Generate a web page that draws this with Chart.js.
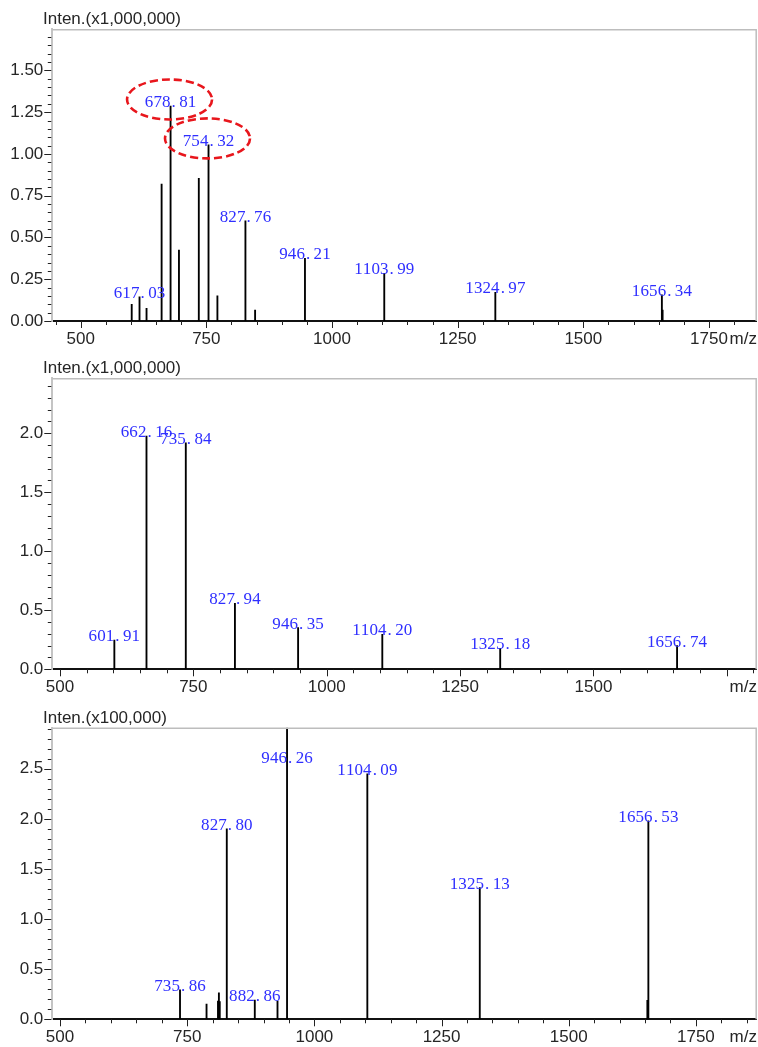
<!DOCTYPE html>
<html><head><meta charset="utf-8">
<script src="https://cdn.jsdelivr.net/npm/chart.js@4/dist/chart.umd.min.js"></script>
<style>
html,body{margin:0;padding:0;background:#fff;width:758px;height:1047px;overflow:hidden}
canvas{position:absolute;left:0}
</style></head><body>
<canvas id="c1"></canvas><canvas id="c2"></canvas><canvas id="c3"></canvas>
<script>
// ---------- Panel 1 data ----------
const mz1  = [601.5, 617.03, 631.0, 661.0, 678.81, 695.5, 735.0, 754.32, 772.0, 827.76, 847.0, 946.21, 1103.99, 1324.97, 1656.34, 1657.8];
const int1 = [0.100, 0.145, 0.076, 0.820, 1.287, 0.425, 0.854, 1.054, 0.150, 0.600, 0.066, 0.375, 0.285, 0.172, 0.156, 0.066];
const labeled1 = [617.03, 678.81, 754.32, 827.76, 946.21, 1103.99, 1324.97, 1656.34];
const circled1 = [678.81, 754.32];
const xTicks1 = [500, 750, 1000, 1250, 1500, 1750];
const yTicks1 = [0, 0.25, 0.5, 0.75, 1.0, 1.25, 1.5];
const yTitle1 = 'Inten.(x1,000,000)';

// ---------- Panel 2 data ----------
const mz2  = [601.91, 662.16, 735.84, 827.94, 946.35, 1104.20, 1325.18, 1656.74];
const int2 = [0.248, 1.977, 1.920, 0.559, 0.353, 0.297, 0.178, 0.200];
const labeled2 = [601.91, 662.16, 735.84, 827.94, 946.35, 1104.20, 1325.18, 1656.74];
const circled2 = [];
const xTicks2 = [500, 750, 1000, 1250, 1500];
const yTicks2 = [0, 0.5, 1.0, 1.5, 2.0];
const yTitle2 = 'Inten.(x1,000,000)';

// ---------- Panel 3 data ----------
const mz3  = [735.86, 788.0, 810.5, 812.3, 814.0, 827.80, 882.86, 927.5, 946.26, 1104.09, 1325.13, 1654.6, 1655.6, 1656.53];
const int3 = [0.293, 0.153, 0.183, 0.263, 0.176, 1.900, 0.193, 0.183, 2.910, 2.450, 1.315, 0.190, 0.190, 1.980];
const labeled3 = [735.86, 827.80, 882.86, 946.26, 1104.09, 1325.13, 1656.53];
const circled3 = [];
const xTicks3 = [500, 750, 1000, 1250, 1500, 1750];
const yTicks3 = [0, 0.5, 1.0, 1.5, 2.0, 2.5];
const yTitle3 = 'Inten.(x100,000)';

// ---------- layout / style ----------
const AXIS_FONT = '"Liberation Sans", Arial, sans-serif';
const LABEL_FONT = '"Liberation Serif", "Times New Roman", serif';

function makePanel(id, canvasTop, canvasH, geom, mz, inten, labeled, circled, xTicks, yTicks, yTitle) {
  const cv = document.getElementById(id);
  cv.width = 758; cv.height = canvasH;
  cv.style.top = canvasTop + 'px';
  cv.style.width = '758px'; cv.style.height = canvasH + 'px';

  const pts = mz.map((x, i) => ({x: x, y: inten[i]}));

  const deco = {
    id: 'deco' + id,
    afterDraw(chart) {
      const ctx = chart.ctx, a = chart.chartArea;
      const xs = chart.scales.x, ys = chart.scales.y;
      ctx.save();
      // top & right frame
      ctx.strokeStyle = '#bdbdbd'; ctx.lineWidth = 1.5;
      ctx.beginPath();
      ctx.moveTo(a.left, a.top + 0.5); ctx.lineTo(a.right - 0.5, a.top + 0.5); ctx.lineTo(a.right - 0.5, a.bottom);
      ctx.stroke();
      // y tick marks
      ctx.strokeStyle = '#222'; ctx.lineWidth = 1;
      const nMinY = Math.floor(ys.max / geom.yMinor + 1e-6);
      for (let i = 0; i <= nMinY; i++) {
        const v = i * geom.yMinor;
        const major = Math.abs(v / geom.yMajor - Math.round(v / geom.yMajor)) < 1e-6;
        const y = Math.round(ys.getPixelForValue(v)) + 0.5;
        ctx.beginPath();
        ctx.moveTo(a.left - (major ? 8 : 4.5), y); ctx.lineTo(a.left - 1, y); ctx.stroke();
      }
      // x tick marks
      let v0 = Math.ceil(xs.min / 50) * 50;
      for (let v = v0; v <= xs.max; v += 50) {
        const major = v % 250 === 0;
        const x = Math.round(xs.getPixelForValue(v)) + 0.5;
        ctx.beginPath();
        ctx.moveTo(x, a.bottom); ctx.lineTo(x, a.bottom + (major ? 7 : 4)); ctx.stroke();
      }
      // axis titles
      ctx.fillStyle = '#262626';
      ctx.font = '17px ' + AXIS_FONT;
      ctx.textAlign = 'left'; ctx.textBaseline = 'alphabetic';
      ctx.fillText(yTitle, 43, a.top - 5);
      ctx.textAlign = 'right'; ctx.textBaseline = 'middle';
      ctx.fillText('m/z', 757, a.bottom + geom.xLabelPad + 10.2);
      // peak labels
      ctx.font = '17px ' + LABEL_FONT;
      ctx.fillStyle = '#2f2fff';
      ctx.textBaseline = 'alphabetic';
      const pitch = 8.6;
      labeled.forEach(val => {
        const idx = mz.indexOf(val);
        const px = xs.getPixelForValue(mz[idx]);
        const py = ys.getPixelForValue(inten[idx]);
        const txt = val.toFixed(2);
        const base = Math.max(py + 1, a.top + 35);
        const x0 = px - txt.length * pitch / 2;
        for (let k = 0; k < txt.length; k++) {
          const ch = txt[k];
          if (ch === '.') { ctx.textAlign = 'left'; ctx.fillText(ch, x0 + k * pitch + 1, base); }
          else { ctx.textAlign = 'center'; ctx.fillText(ch, x0 + k * pitch + pitch / 2, base); }
        }
        if (circled.indexOf(val) >= 0) {
          ctx.save();
          ctx.strokeStyle = '#e8161c'; ctx.lineWidth = 2.6;
          ctx.setLineDash([8, 4]);
          ctx.beginPath();
          ctx.ellipse(px - 1, base - 7.5, 42.5, 20, 0, 0, Math.PI * 2);
          ctx.stroke();
          ctx.restore();
          ctx.fillStyle = '#2f2fff';
        }
      });
      ctx.restore();
    }
  };

  return new Chart(cv, {
    type: 'bar',
    data: { datasets: [{ data: pts, backgroundColor: '#000', borderWidth: 0, barThickness: 1.2 }] },
    options: {
      responsive: false, animation: false, devicePixelRatio: 1,
      layout: { padding: { top: geom.top, left: 0, right: 758 - geom.right, bottom: 0 } },
      plugins: { legend: { display: false }, tooltip: { enabled: false } },
      scales: {
        x: {
          type: 'linear', min: geom.xMin, max: geom.xMax, offset: false,
          grid: { display: false, drawTicks: false },
          border: { display: true, color: '#111', width: 2 },
          afterBuildTicks: s => { s.ticks = xTicks.map(v => ({ value: v })); },
          afterFit: s => { s.height = canvasH - geom.bottom; },
          ticks: { autoSkip: false, maxRotation: 0, padding: geom.xLabelPad, color: '#262626',
                   font: { family: AXIS_FONT, size: 17 }, callback: v => String(v) }
        },
        y: {
          type: 'linear', min: 0, max: geom.yMax,
          grid: { display: false, drawTicks: false },
          border: { display: true, color: '#c4c4c4', width: 2 },
          afterBuildTicks: s => { s.ticks = yTicks.map(v => ({ value: v })); },
          afterFit: s => { s.width = geom.left; },
          ticks: { autoSkip: false, padding: 9, color: '#262626',
                   font: { family: AXIS_FONT, size: 17 }, callback: v => Number(v).toFixed(geom.dec) }
        }
      }
    },
    plugins: [deco]
  });
}

makePanel('c1', 0, 350,
  { top: 29.3, bottom: 321, left: 52.3, right: 756.7, xMin: 443.5, xMax: 1845, yMax: 1.746, yMajor: 0.25, yMinor: 0.05, dec: 2, xLabelPad: 8 },
  mz1, int1, labeled1, circled1, xTicks1, yTicks1, yTitle1);
makePanel('c2', 350, 350,
  { top: 28.3, bottom: 319.3, left: 52.3, right: 756.7, xMin: 485.6, xMax: 1806, yMax: 2.466, yMajor: 0.5, yMinor: 0.1, dec: 1, xLabelPad: 8 },
  mz2, int2, labeled2, circled2, xTicks2, yTicks2, yTitle2);
makePanel('c3', 700, 347,
  { top: 27.7, bottom: 319.3, left: 52.3, right: 756.7, xMin: 484.8, xMax: 1869.5, yMax: 2.91, yMajor: 0.5, yMinor: 0.1, dec: 1, xLabelPad: 8 },
  mz3, int3, labeled3, circled3, xTicks3, yTicks3, yTitle3);
</script>
</body></html>
